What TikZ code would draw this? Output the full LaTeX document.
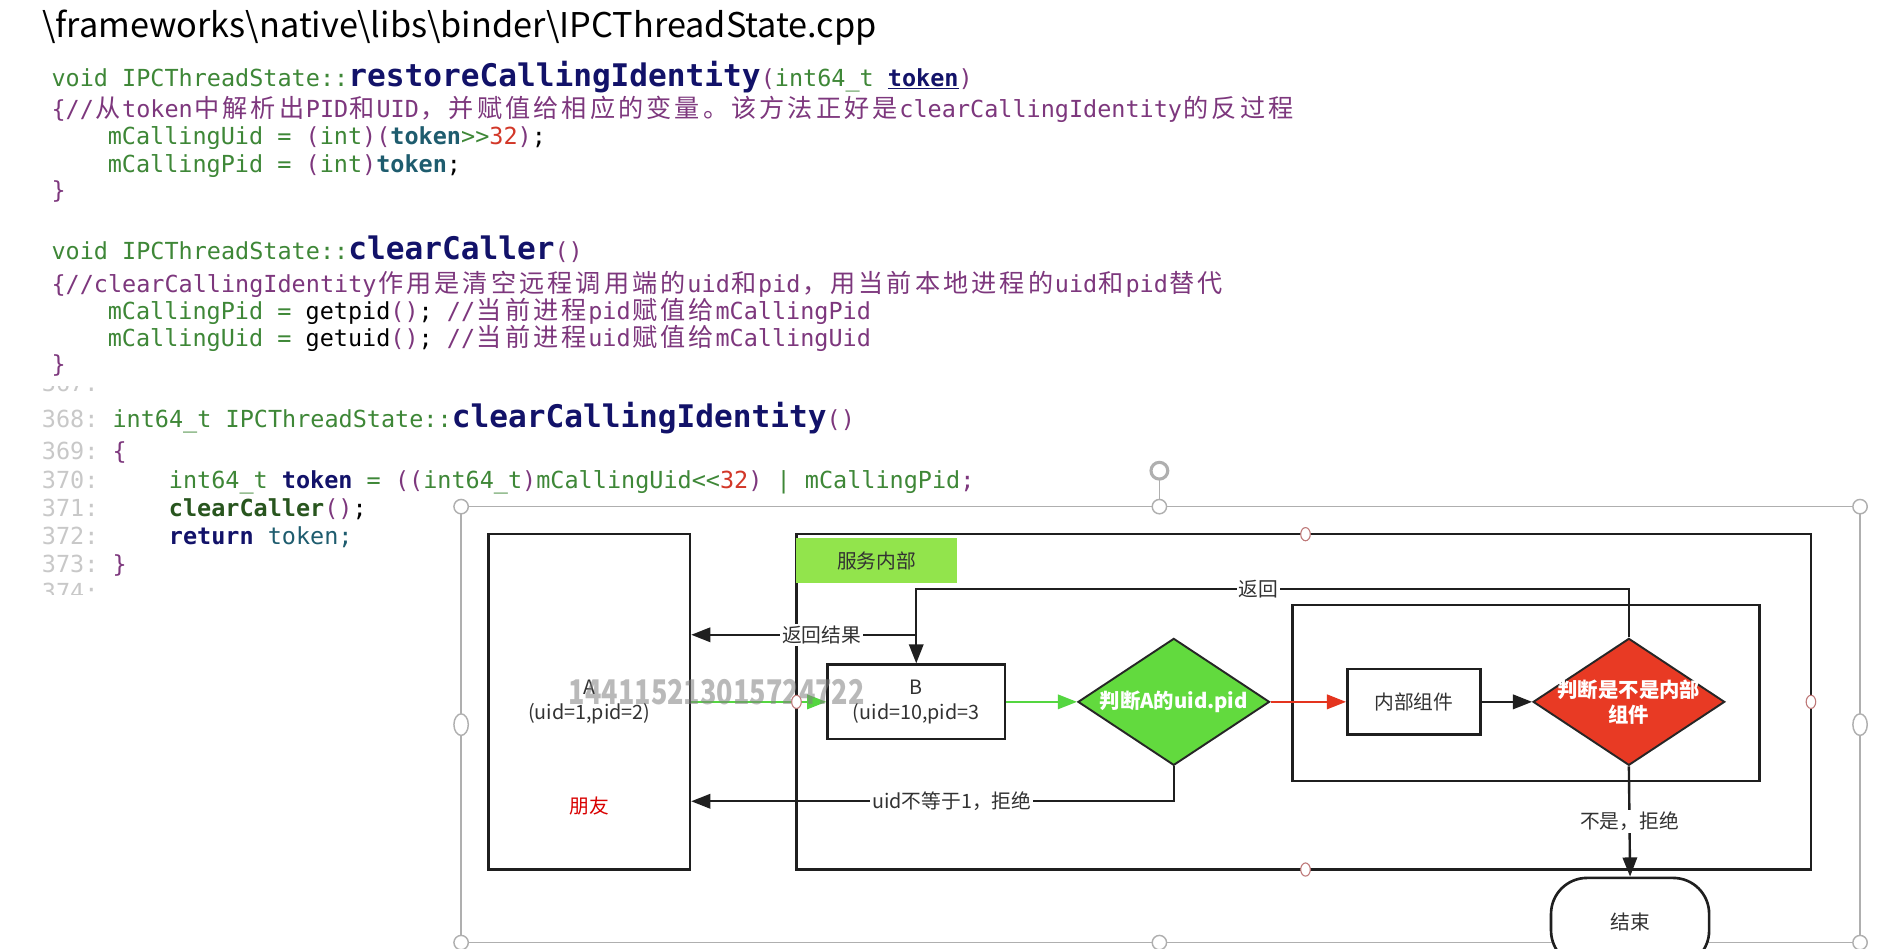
\documentclass[tikz,border=0pt]{standalone}
\usepackage{fontspec}
\usepackage{graphicx}
\setmainfont{Noto Sans CJK SC}
\setmonofont{DejaVu Sans Mono}
\newfontfamily\cjk{Noto Sans CJK SC}
\usetikzlibrary{shapes.geometric,arrows.meta}
\definecolor{cgreen}{RGB}{62,135,55}
\definecolor{cpurple}{RGB}{125,55,125}
\definecolor{cnavy}{RGB}{18,18,105}
\definecolor{cteal}{RGB}{30,92,110}
\definecolor{cred}{RGB}{210,55,40}
\definecolor{cdgreen}{RGB}{40,85,30}
\definecolor{lgray}{RGB}{200,200,200}
\definecolor{txt}{RGB}{50,50,50}
\definecolor{lblgreen}{RGB}{146,228,76}
\definecolor{dgreen}{RGB}{98,218,62}
\definecolor{dred}{RGB}{232,58,36}
\definecolor{garr}{RGB}{84,214,64}
\definecolor{rarr}{RGB}{228,52,30}
\definecolor{framec}{RGB}{175,175,175}
\definecolor{hndl}{RGB}{190,120,120}
\makeatletter
\def\zh#1{\zh@loop#1\relax}
\def\zh@loop#1{\ifx\relax#1\else\makebox[23.6pt]{\cjk\fontsize{21}{22}\selectfont #1}\expandafter\zh@loop\fi}
\makeatother
\newcommand\fn[1]{{\fontsize{26}{28}\selectfont\bfseries\color{cnavy}#1}}
\begin{document}
\begin{tikzpicture}[x=1pt,y=-1pt,
  code/.style={anchor=base west, inner sep=0pt, outer sep=0pt, font=\ttfamily\fontsize{19.6}{22}\selectfont},
  box/.style={draw=black!88, line width=2.2pt, inner sep=0pt},
  dfont/.style={font=\fontsize{16.5}{21}\selectfont, text=txt},
  conn/.style={draw=black!88, line width=2pt, -{Triangle[length=16pt,width=12pt]}},
  lbl/.style={fill=white, inner sep=1.5pt, font=\fontsize{16.5}{20}\selectfont, text=txt},
  dshape/.style={diamond, draw=black!85, line width=1.6pt, minimum width=160pt, minimum height=106pt, inner sep=0pt},
  dtext/.style={text=white, font=\fontsize{17}{21}\selectfont\bfseries, align=center, inner sep=0pt},
  handle/.style={draw=framec, fill=white, line width=1.2pt},
  shandle/.style={draw=hndl, fill=white, line width=0.9pt}]
\useasboundingbox (0,0) rectangle (1568,792);
\fill[white] (0,0) rectangle (1568,792);

% title
\node[anchor=base west, inner sep=0pt] (title) at (35,31) {\resizebox{697pt}{23pt}{\textbackslash frameworks\textbackslash native\textbackslash libs\textbackslash binder\textbackslash IPCThreadState.cpp}};

% block 1
\node[code] (l1) at (43,72) {{\color{cgreen}void IPCThreadState::}\fn{restoreCallingIdentity}{\color{cpurple}(}{\color{cgreen}int64\_t} {\bfseries\color{cnavy}\underline{token}}{\color{cpurple})}};
\node[code, text=cpurple] (l2) at (43,98) {\{//\zh{从}token\zh{中解析出}PID\zh{和}UID\zh{，并赋值给相应的变量。该方法正好是}clearCallingIdentity\zh{的反过程}};
\node[code] (l3) at (90,121) {{\color{cgreen}mCallingUid =} {\color{cpurple}(}{\color{cgreen}int}{\color{cpurple})(}{\bfseries\color{cteal}token}{\color{cgreen}>>}{\color{cred}32}{\color{cpurple})};};
\node[code] (l4) at (90,144) {{\color{cgreen}mCallingPid =} {\color{cpurple}(}{\color{cgreen}int}{\color{cpurple})}{\bfseries\color{cteal}token};};
\node[code, text=cpurple] (l5) at (43,166) {\}};

% block 2
\node[code] (m1) at (43,217) {{\color{cgreen}void IPCThreadState::}\fn{clearCaller}{\color{cpurple}()}};
\node[code, text=cpurple] (m2) at (43,244) {\{//clearCallingIdentity\zh{作用是清空远程调用端的}uid\zh{和}pid\zh{，用当前本地进程的}uid\zh{和}pid\zh{替代}};
\node[code] (m3) at (90,267) {{\color{cgreen}mCallingPid =} getpid{\color{cpurple}()}; {\color{cpurple}//\zh{当前进程}pid\zh{赋值给}mCallingPid}};
\node[code] (m4) at (90,289) {{\color{cgreen}mCallingUid =} getuid{\color{cpurple}()}; {\color{cpurple}//\zh{当前进程}uid\zh{赋值给}mCallingUid}};
\node[code, text=cpurple] (m5) at (43,311) {\}};

% block 3
\begin{scope}
\clip (0,323) rectangle (200,340);
\node[code, text=lgray] (n367) at (35,327) {367:};
\end{scope}
\node[code, text=lgray] (n368) at (35,357) {368:};
\node[code] (c368) at (94,357) {{\color{cgreen}int64\_t IPCThreadState::}\fn{clearCallingIdentity}{\color{cpurple}()}};
\node[code, text=lgray] (n369) at (35,384) {369:};
\node[code, text=cpurple] (c369) at (94,384) {\{};
\node[code, text=lgray] (n370) at (35,408) {370:};
\node[code] (c370) at (141,408) {{\color{cgreen}int64\_t} {\bfseries\color{cnavy}token} {\color{cgreen}=} {\color{cpurple}((}{\color{cgreen}int64\_t}{\color{cpurple})}{\color{cgreen}mCallingUid<<}{\color{cred}32}{\color{cpurple})} {\color{cgreen}| mCallingPid}{\color{cpurple};}};
\node[code, text=lgray] (n371) at (35,431) {371:};
\node[code] (c371) at (141,431) {{\bfseries\color{cdgreen}clearCaller}{\color{cpurple}()};};
\node[code, text=lgray] (n372) at (35,455) {372:};
\node[code] (c372) at (141,455) {{\bfseries\color{cnavy}return} {\color{cteal}token;}};
\node[code, text=lgray] (n373) at (35,478) {373:};
\node[code, text=cpurple] (c373) at (94,478) {\}};
\begin{scope}
\clip (0,486) rectangle (200,496);
\node[code, text=lgray] (n374) at (35,501.5) {374:};
\end{scope}

% selection frame
\draw[framec, line width=1.2pt] (385,423) rectangle (1553,787);
\draw[framec, line width=1.2pt] (968,401) -- (968,423);
\draw[framec, line width=2.6pt] (968,393) circle[radius=7pt];

% containers and boxes
\node[box, minimum width=847pt, minimum height=280pt] (svc) at (1088.5,586) {};
\node[box, minimum width=390pt, minimum height=147pt] (inner) at (1274,578.5) {};
\node[box, fill=white, minimum width=168pt, minimum height=280pt, align=center, dfont] (A) at (492,586) {A\\(uid=1,pid=2)};
\node[dfont, text=red!85!black] (friend) at (492,673) {朋友};
\node[fill=lblgreen, minimum width=134pt, minimum height=38pt, inner sep=0pt, dfont] (svclab) at (732,468) {服务内部};
\node[box, fill=white, minimum width=148pt, minimum height=62pt, align=center, dfont] (B) at (765,586) {B\\(uid=10,pid=3};
\node[dshape, fill=dgreen] (d1) at (980,586) {};
\node[dtext] (d1t) at (d1) {判断A的uid.pid};
\node[box, fill=white, minimum width=111pt, minimum height=55pt, dfont] (comp) at (1180.5,586) {内部组件};
\node[dshape, fill=dred] (d2) at (1360,586) {};
\node[dtext] (d2t) at (d2) {判断是不是内部\\组件};
\node[box, fill=white, rounded corners=30pt, minimum width=132pt, minimum height=74pt, dfont] (end) at (1361,770) {结束};

% connectors
\coordinate (ytop) at (0,492);
\coordinate (yret) at (0,530);
\coordinate (yrej) at (0,669);
\draw[conn, draw=garr] (A) -- (B);
\draw[conn, draw=garr] (B) -- (d1);
\draw[conn, draw=rarr] (d1) -- (comp);
\draw[conn] (comp) -- (d2);
\draw[conn] (d2.north) -- (d2.north |- ytop) -- node[lbl, pos=0.52] {返回} (B.north |- ytop) -- (B.north);
\draw[conn] (B.north |- yret) -- node[lbl, pos=0.42] {返回结果} (A.east |- yret);
\draw[conn] (d1.south) -- (d1.south |- yrej) -- node[lbl, pos=0.46] {uid不等于1，拒绝} (A.east |- yrej);
\draw[conn] (d2.south) -- node[lbl] {不是，拒绝} (end.north);

% watermark
\node[opacity=0.55, text=gray, inner sep=0pt] (wm) at (598.5,578) {\resizebox{247pt}{21pt}{\bfseries 144115213015724722}};

% handles
\foreach \p in {(385,423),(968,423),(1553,423),(385,787),(968,787),(1553,787)}
  \draw[handle] \p circle[radius=6pt];
\draw[handle] (385,605) ellipse[x radius=6pt, y radius=9pt];
\draw[handle] (1553,605) ellipse[x radius=6pt, y radius=9pt];
\foreach \p in {(1090,446),(1090,726),(1512,586),(665,586)}
  \draw[shandle] \p ellipse[x radius=4pt, y radius=5.5pt];
\end{tikzpicture}
\end{document}
